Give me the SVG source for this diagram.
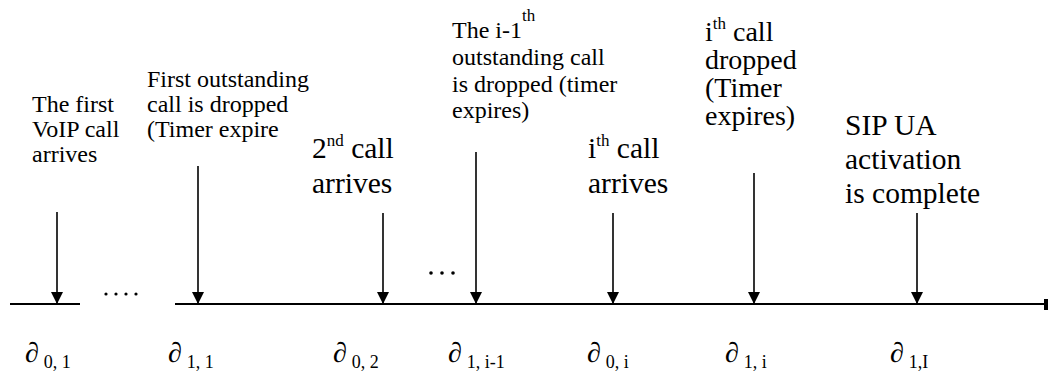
<svg xmlns="http://www.w3.org/2000/svg" width="1048" height="373" viewBox="0 0 1048 373" font-family="'Liberation Serif', 'Times New Roman', serif">
<style>
text{font-family:"Liberation Serif","Times New Roman",serif;fill:#000}
.s{font-size:24px}
.b{font-size:29.5px}
.m{font-size:28px}
.sup{font-size:17px}
.d{font-size:28px;font-style:italic}
.sub{font-size:18px;font-style:normal}
.ar{stroke:#000;stroke-width:1.6;fill:none;marker-end:url(#ah)}
.ax{stroke:#000;stroke-width:2;fill:none}
</style>
<defs>
<marker id="ah" markerUnits="userSpaceOnUse" markerWidth="12" markerHeight="12" refX="12" refY="6" orient="auto">
<path d="M0,0 L12,6 L0,12 z" fill="#000"/>
</marker>
</defs>
<rect width="1048" height="373" fill="#fff"/>
<g id="connectors">
<line class="ax" x1="10" y1="304" x2="80" y2="304"/>
<line class="ax" x1="175" y1="304" x2="1046" y2="304"/>
<rect x="1044" y="299" width="4" height="11" fill="#000"/>
<line class="ar" x1="57" y1="212" x2="57" y2="304"/>
<line class="ar" x1="198" y1="166" x2="198" y2="304"/>
<line class="ar" x1="383" y1="213" x2="383" y2="304"/>
<line class="ar" x1="476" y1="152" x2="476" y2="304"/>
<line class="ar" x1="613" y1="213" x2="613" y2="304"/>
<line class="ar" x1="754" y1="173" x2="754" y2="304"/>
<line class="ar" x1="917" y1="213" x2="917" y2="304"/>
<g fill="#000">
<circle cx="106" cy="294" r="1.6"/><circle cx="116" cy="294" r="1.6"/><circle cx="126" cy="294" r="1.6"/><circle cx="136" cy="294" r="1.6"/>
<circle cx="431" cy="273" r="1.8"/><circle cx="442" cy="273" r="1.8"/><circle cx="453" cy="273" r="1.8"/>
</g>
</g>
<g id="n1"><text class="s" x="32" y="112">The first</text><text class="s" x="32" y="137">VoIP call</text><text class="s" x="32" y="162">arrives</text></g>
<g id="n2"><text class="s" x="147" y="87">First outstanding</text><text class="s" x="147" y="112">call is dropped</text><text class="s" x="147" y="137">(Timer expire</text></g>
<g id="n3"><text class="b" x="312" y="158">2<tspan class="sup" dy="-12">nd</tspan><tspan dy="12"> call</tspan></text><text class="b" x="312" y="193">arrives</text></g>
<g id="n4"><text class="s" x="452" y="38">The i-1<tspan class="sup" dy="-17">th</tspan></text><text class="s" x="452" y="65">outstanding call</text><text class="s" x="452" y="92">is dropped (timer</text><text class="s" x="452" y="118">expires)</text></g>
<g id="n5"><text class="b" x="588" y="158">i<tspan class="sup" dy="-12">th</tspan><tspan dy="12"> call</tspan></text><text class="b" x="588" y="193">arrives</text></g>
<g id="n6"><text class="m" x="705" y="41">i<tspan class="sup" dy="-12">th</tspan><tspan dy="12"> call</tspan></text><text class="m" x="705" y="69">dropped</text><text class="m" x="705" y="97">(Timer</text><text class="m" x="705" y="125">expires)</text></g>
<g id="n7"><text class="b" x="845" y="135">SIP UA</text><text class="b" x="845" y="169">activation</text><text class="b" x="845" y="203">is complete</text></g>
<g id="labels">
<text class="d" x="25" y="362">∂<tspan class="sub" dx="5" dy="6">0, 1</tspan></text>
<text class="d" x="168" y="362">∂<tspan class="sub" dx="5" dy="6">1, 1</tspan></text>
<text class="d" x="333" y="362">∂<tspan class="sub" dx="5" dy="6">0, 2</tspan></text>
<text class="d" x="448" y="362">∂<tspan class="sub" dx="5" dy="6">1, i-1</tspan></text>
<text class="d" x="587" y="362">∂<tspan class="sub" dx="5" dy="6">0, i</tspan></text>
<text class="d" x="725" y="362">∂<tspan class="sub" dx="5" dy="6">1, i</tspan></text>
<text class="d" x="890" y="362">∂<tspan class="sub" dx="5" dy="6">1,I</tspan></text>
</g>
</svg>
